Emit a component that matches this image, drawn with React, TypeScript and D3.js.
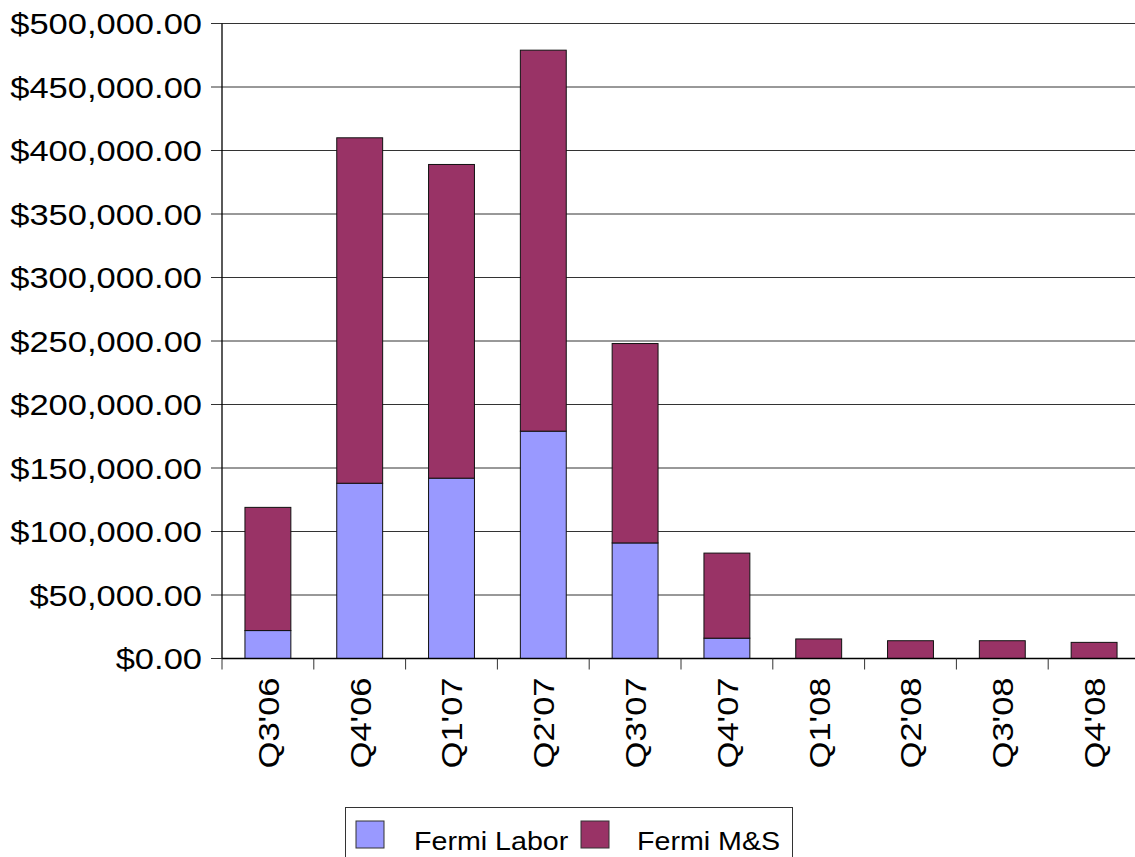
import React, { useEffect, useRef } from "react";
import * as d3 from "d3";

const quarters = ["Q3'06", "Q4'06", "Q1'07", "Q2'07", "Q3'07", "Q4'07", "Q1'08", "Q2'08", "Q3'08", "Q4'08"];
const laborValues = [22000, 138000, 142000, 179000, 91000, 16000, 0, 0, 0, 0];
const msValues = [97000, 272000, 247000, 300000, 157000, 67000, 15400, 14000, 14000, 12700];
const yTicks = [0, 50000, 100000, 150000, 200000, 250000, 300000, 350000, 400000, 450000, 500000];
const seriesNames = ["Fermi Labor", "Fermi M&S"];
const seriesColors = ["#9999ff", "#993366"];

const W = 1135;
const H = 857;
const FONT = "'Liberation Sans', Arial, sans-serif";
const STRETCH = 1.15;

export default function App() {
  const ref = useRef<SVGSVGElement>(null);

  useEffect(() => {
    const svg = d3.select(ref.current);
    svg.selectAll("*").remove();

    const left = 222;
    const top = 23.5;
    const bottom = 658.5;
    const plotRight = left + 918;

    const x = d3.scaleBand().domain(quarters).range([left, plotRight]).paddingInner(0.5).paddingOuter(0.25);
    const y = d3.scaleLinear().domain([0, 500000]).range([bottom, top]);

    // gridlines
    svg
      .append("g")
      .selectAll("line")
      .data(yTicks)
      .join("line")
      .attr("x1", left - 11)
      .attr("x2", plotRight)
      .attr("y1", (d) => y(d))
      .attr("y2", (d) => y(d))
      .attr("stroke", "#333")
      .attr("stroke-width", 1);

    // stacked bars
    const rows = quarters.map((q, i) => ({ q, labor: laborValues[i], ms: msValues[i] }));
    const stack = d3.stack<any>().keys(["labor", "ms"])(rows);
    svg
      .append("g")
      .selectAll("g")
      .data(stack)
      .join("g")
      .attr("fill", (_d, i) => seriesColors[i])
      .selectAll("rect")
      .data((d) => d.filter((p) => p[1] - p[0] > 0))
      .join("rect")
      .attr("x", (d) => x(d.data.q)!)
      .attr("width", x.bandwidth())
      .attr("y", (d) => y(d[1]))
      .attr("height", (d) => y(d[0]) - y(d[1]))
      .attr("stroke", "#111")
      .attr("stroke-width", 1);

    // y axis
    const yAxis = svg.append("g");
    yAxis
      .append("line")
      .attr("x1", left)
      .attr("x2", left)
      .attr("y1", top)
      .attr("y2", bottom)
      .attr("stroke", "#000")
      .attr("stroke-width", 1.3);
    const fmt = (d: number) => "$" + d3.format(",.2f")(d);
    yAxis
      .selectAll("text")
      .data(yTicks)
      .join("text")
      .attr("transform", (d) => `translate(${left - 20},${y(d)}) scale(${STRETCH},1)`)
      .attr("text-anchor", "end")
      .attr("dy", "0.36em")
      .attr("font-family", FONT)
      .attr("font-size", 30)
      .attr("fill", "#000")
      .text((d) => fmt(d));

    // x axis
    const xAxis = svg.append("g").attr("transform", `translate(0,${bottom})`);
    xAxis
      .append("line")
      .attr("x1", left)
      .attr("x2", plotRight)
      .attr("stroke", "#000")
      .attr("stroke-width", 1.5);
    const step = x.step();
    xAxis
      .selectAll("line.tk")
      .data(d3.range(0, quarters.length + 1))
      .join("line")
      .attr("class", "tk")
      .attr("x1", (i) => left + i * step)
      .attr("x2", (i) => left + i * step)
      .attr("y1", 0)
      .attr("y2", 11)
      .attr("stroke", "#333");
    xAxis
      .selectAll("text")
      .data(quarters)
      .join("text")
      .attr("transform", (d) => `translate(${x(d)! + x.bandwidth() / 2},19) rotate(-90) scale(${STRETCH},1)`)
      .attr("text-anchor", "end")
      .attr("dy", "0.36em")
      .attr("font-family", FONT)
      .attr("font-size", 30)
      .attr("fill", "#000")
      .text((d) => d);

    // legend
    const lg = svg.append("g");
    lg.append("rect")
      .attr("x", 345.5)
      .attr("y", 807.5)
      .attr("width", 447)
      .attr("height", 80)
      .attr("fill", "#fff")
      .attr("stroke", "#333");
    const items = [
      { sx: 356, tx: 414 },
      { sx: 581, tx: 637 },
    ];
    items.forEach((it, i) => {
      lg.append("rect")
        .attr("x", it.sx)
        .attr("y", 821)
        .attr("width", 28)
        .attr("height", 27)
        .attr("fill", seriesColors[i])
        .attr("stroke", "#333");
      lg.append("text")
        .attr("transform", `translate(${it.tx},850) scale(1.08,1)`)
        .attr("font-family", FONT)
        .attr("font-size", 26.5)
        .attr("fill", "#000")
        .text(seriesNames[i]);
    });
  }, []);

  return (
    <svg
      ref={ref}
      width={W}
      height={H}
      style={{ position: "absolute", left: 0, top: 0, background: "#fff" }}
    />
  );
}
